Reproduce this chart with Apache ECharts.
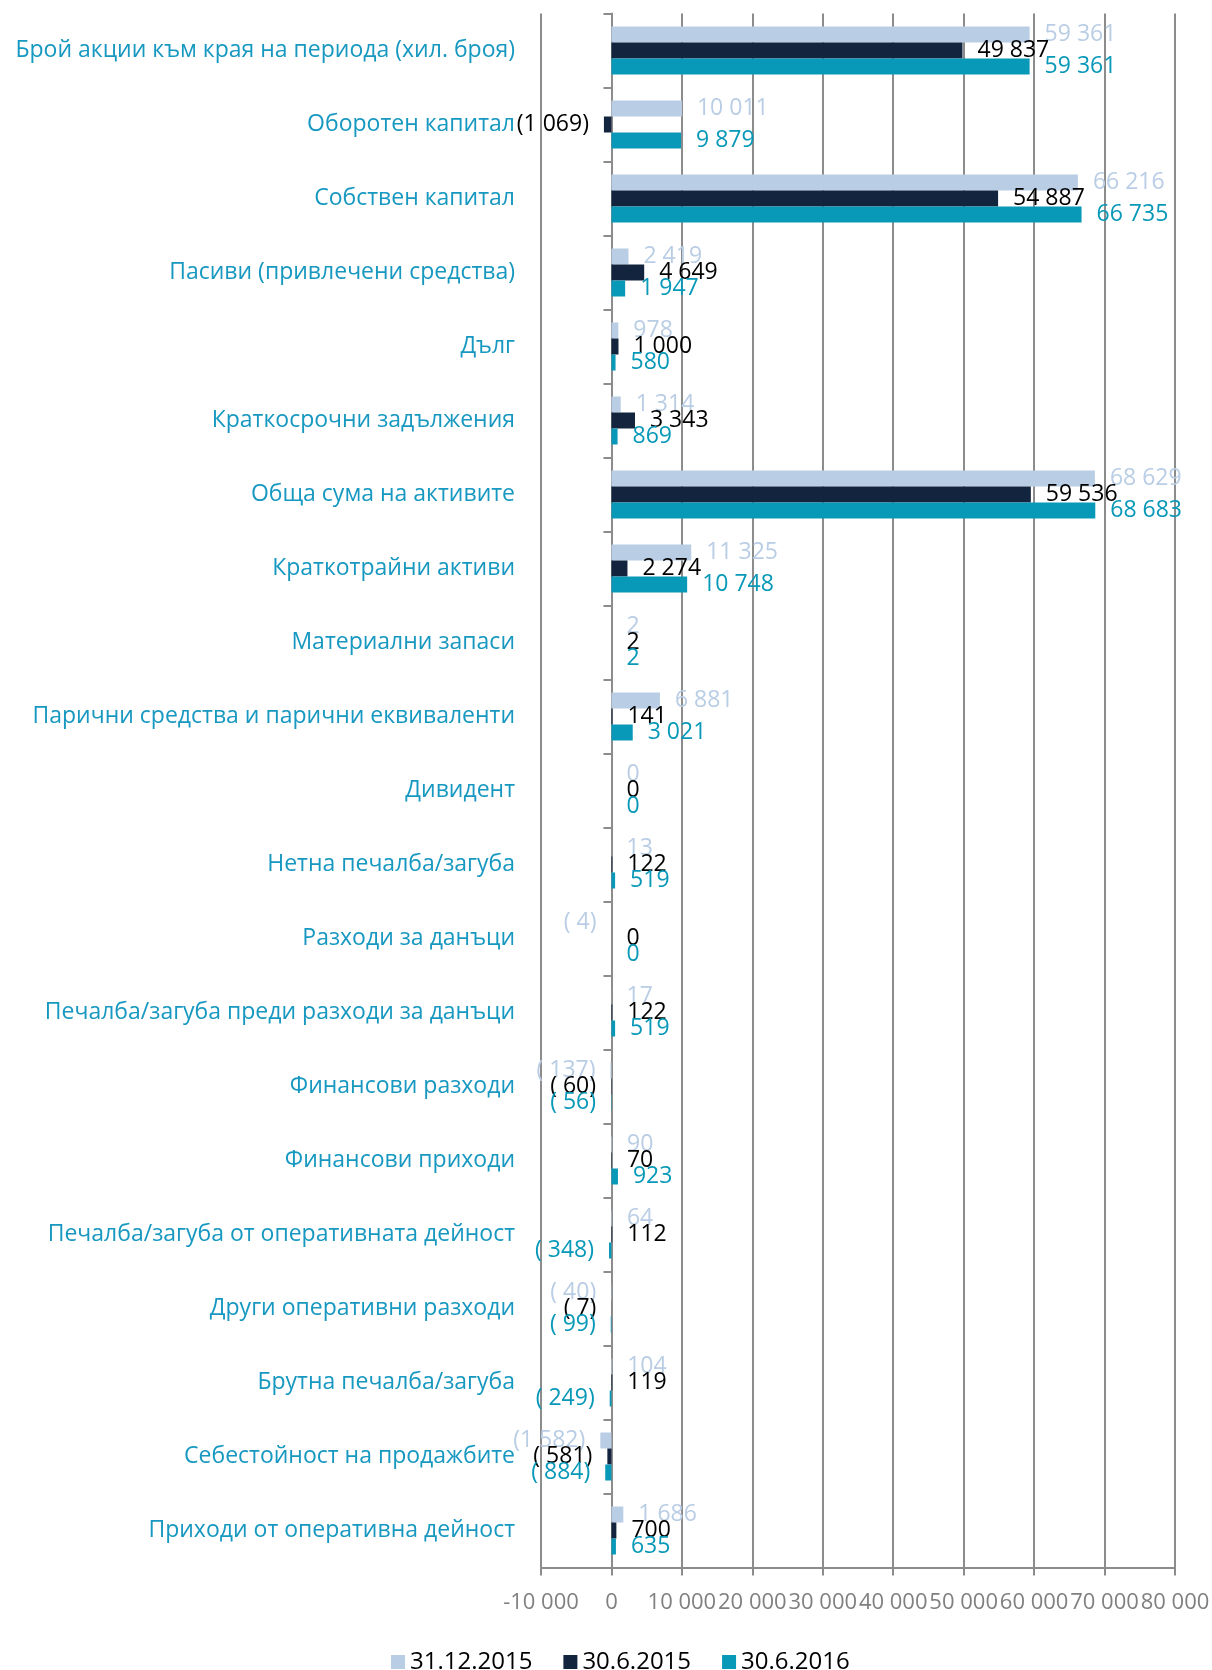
<html>
<head>
<meta http-equiv="Content-Type" content="text/html; charset=utf-8">
<script type="text/javascript" src="https://cdn.jsdelivr.net/npm/echarts@6/dist/echarts.min.js"></script>
<style>
  html, body { margin: 0; padding: 0; background: #fff; }
  #main { width: 1212px; height: 1670px; }
</style>
</head>
<body>
<div id="main"></div>
<script type="text/javascript">
// категории (отгоре надолу)
var categories = [
  'Брой акции към края на периода (хил. броя)',
  'Оборотен капитал',
  'Собствен капитал',
  'Пасиви (привлечени средства)',
  'Дълг',
  'Краткосрочни задължения',
  'Обща сума на активите',
  'Краткотрайни активи',
  'Материални запаси',
  'Парични средства и парични еквиваленти',
  'Дивидент',
  'Нетна печалба/загуба',
  'Разходи за данъци',
  'Печалба/загуба преди разходи за данъци',
  'Финансови разходи',
  'Финансови приходи',
  'Печалба/загуба от оперативната дейност',
  'Други оперативни разходи',
  'Брутна печалба/загуба',
  'Себестойност на продажбите',
  'Приходи от оперативна дейност'
];
var seriesNames = ['31.12.2015', '30.6.2015', '30.6.2016'];
var values_31_12_2015 = [59361, 10011, 66216, 2419, 978, 1314, 68629, 11325, 2, 6881, 0, 13, -4, 17, -137, 90, 64, -40, 104, -1582, 1686];
var values_30_6_2015  = [49837, -1069, 54887, 4649, 1000, 3343, 59536, 2274, 2, 141, 0, 122, 0, 122, -60, 70, 112, -7, 119, -581, 700];
var values_30_6_2016  = [59361, 9879, 66735, 1947, 580, 869, 68683, 10748, 2, 3021, 0, 519, 0, 519, -56, 923, -348, -99, -249, -884, 635];
var xMin = -10000, xMax = 80000, xStep = 10000;

var FONT = '"Open Sans", "Noto Sans", sans-serif';

function grp(n) {
  return String(Math.round(Math.abs(n))).replace(/\B(?=(\d{3})+(?!\d))/g, ' ');
}
// формат като в Excel: # ##0;(# ##0)
function fmt(v) {
  if (v < 0) {
    var a = Math.abs(v);
    return a < 1000 ? '( ' + grp(a) + ')' : '(' + grp(a) + ')';
  }
  return grp(v);
}

var colors = ['#b9cde5', '#13243f', '#0898b8'];
var labelColors = ['#b9cde5', '#000000', '#0898b8'];
var allValues = [values_31_12_2015, values_30_6_2015, values_30_6_2016];

var series = [];
for (var i = 0; i < seriesNames.length; i++) {
  series.push({
    name: seriesNames[i],
    type: 'bar',
    data: allValues[i],
    barWidth: 16,
    barGap: '0%',
    itemStyle: { color: colors[i] },
    label: {
      show: true,
      position: 'outside',
      distance: 15,
      color: labelColors[i],
      fontFamily: FONT,
      fontSize: 23,
      formatter: function (p) { return fmt(p.value); }
    }
  });
}

var myChart = echarts.init(document.getElementById('main'));
var option = {
  animation: false,
  color: colors,
  grid: {
    left: 541,
    right: 37,
    top: 13.5,
    bottom: 102.5,
    containLabel: false,
    outerBoundsMode: 'none'
  },
  legend: {
    data: seriesNames,
    left: 386,
    top: 1645,
    icon: 'rect',
    itemWidth: 14,
    itemHeight: 14,
    itemGap: 31,
    textStyle: { fontFamily: FONT, fontSize: 24, color: '#000' }
  },
  xAxis: {
    type: 'value',
    min: xMin,
    max: xMax,
    interval: xStep,
    axisLine: { show: true, onZero: false, lineStyle: { color: '#8c8c8c', width: 2 } },
    axisTick: { show: true, length: 8, lineStyle: { color: '#8c8c8c', width: 2 } },
    splitLine: { show: true, lineStyle: { color: '#8c8c8c', width: 2 } },
    axisLabel: {
      margin: 24,
      color: '#808080',
      fontFamily: FONT,
      fontSize: 22,
      hideOverlap: false,
      formatter: function (v) { return (v < 0 ? '-' : '') + grp(v); }
    }
  },
  yAxis: {
    type: 'category',
    data: categories,
    inverse: true,
    axisLine: { show: true, onZero: true, lineStyle: { color: '#8c8c8c', width: 2 } },
    axisTick: { show: true, length: 8, lineStyle: { color: '#8c8c8c', width: 2 } },
    axisLabel: {
      margin: 26,
      color: '#1798c0',
      fontFamily: FONT,
      fontSize: 23,
      interval: 0
    }
  },
  series: series
};
myChart.setOption(option);
</script>
</body>
</html>
